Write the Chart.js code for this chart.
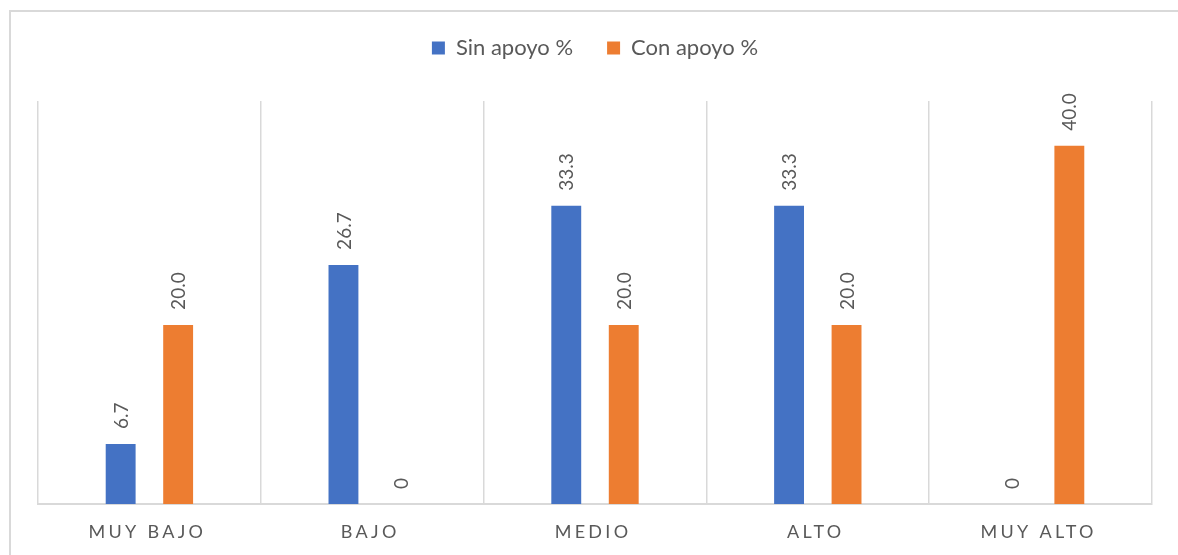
<!DOCTYPE html>
<html>
<head>
<meta charset="utf-8">
<script src="https://cdn.jsdelivr.net/npm/chart.js@4.4.1/dist/chart.umd.min.js"></script>
<style>
  html, body { margin: 0; padding: 0; background: #fff; overflow: hidden; }
  #wrap { position: relative; width: 1178px; height: 555px; }
  #frame { position: absolute; left: 9px; top: 10px; width: 1300px; height: 700px;
           border-top: 2px solid #d9d9d9; border-left: 2px solid #d9d9d9; box-sizing: border-box; pointer-events: none; }
  canvas { position: absolute; left: 0; top: 0; }
</style>
</head>
<body>
<div id="wrap">
  <canvas id="c" width="1178" height="555"></canvas>
  <div id="frame"></div>
</div>
<script>
const categories = ['MUY BAJO', 'BAJO', 'MEDIO', 'ALTO', 'MUY ALTO'];
const sinApoyo = [6.7, 26.7, 33.3, 33.3, 0];
const conApoyo = [20.0, 0, 20.0, 20.0, 40.0];
const seriesNames = ['Sin apoyo %', 'Con apoyo %'];

const FONT = 'Lato, "Open Sans", sans-serif';
const GRAY = '#595959';

const legendSpacer = {
  id: 'legendSpacer',
  beforeUpdate(chart) {
    const lg = chart.legend;
    if (lg && !lg._patched) {
      const orig = lg.fit;
      lg.fit = function () { orig.call(this); this.height += 32; };
      lg._patched = true;
    }
  }
};

const spacedTicks = {
  id: 'spacedTicks',
  beforeDraw(chart) {
    const sc = chart.scales.x;
    if (sc && !sc._patched) {
      const orig = sc.drawLabels;
      sc.drawLabels = function (area) {
        const ctx = this.ctx;
        ctx.save();
        ctx.letterSpacing = '3.3px';
        ctx.translate(-2, 0);
        orig.call(this, area);
        ctx.restore();
      };
      sc._patched = true;
    }
  }
};

const valueLabels = {
  id: 'valueLabels',
  afterDatasetsDraw(chart) {
    const ctx = chart.ctx;
    chart.data.datasets.forEach((ds, di) => {
      const meta = chart.getDatasetMeta(di);
      meta.data.forEach((el, i) => {
        const v = ds.data[i];
        const txt = v === 0 ? '0' : v.toFixed(1);
        ctx.save();
        ctx.translate(el.x, el.y - 15);
        ctx.rotate(-Math.PI / 2);
        ctx.font = '19px ' + FONT;
        ctx.fillStyle = GRAY;
        ctx.textAlign = 'left';
        ctx.textBaseline = 'middle';
        ctx.fillText(txt, 0, 1);
        ctx.restore();
      });
    });
  }
};

new Chart(document.getElementById('c'), {
  type: 'bar',
  data: {
    labels: categories,
    datasets: [
      { label: seriesNames[0], data: sinApoyo, backgroundColor: '#4472C4',
        categoryPercentage: 0.516, barPercentage: 0.52 },
      { label: seriesNames[1], data: conApoyo, backgroundColor: '#ED7D31',
        categoryPercentage: 0.516, barPercentage: 0.52 }
    ]
  },
  options: {
    responsive: false,
    animation: false,
    layout: { padding: { left: 38, right: 26, top: 3, bottom: 0 } },
    plugins: {
      legend: {
        position: 'top',
        labels: { font: { family: FONT, size: 22 }, color: GRAY, boxWidth: 13, boxHeight: 13, padding: 34 }
      },
      tooltip: { enabled: false }
    },
    scales: {
      x: {
        grid: { display: true, offset: true, color: '#d9d9d9', lineWidth: 1.5, drawTicks: false },
        border: { display: true, color: '#d9d9d9', width: 2 },
        ticks: { font: { family: FONT, size: 18 }, color: GRAY, padding: 17 },
        afterFit(scale) { scale.height = 51; }
      },
      y: { display: false, min: 0, max: 45 }
    }
  },
  plugins: [legendSpacer, spacedTicks, valueLabels]
});
</script>
</body>
</html>
